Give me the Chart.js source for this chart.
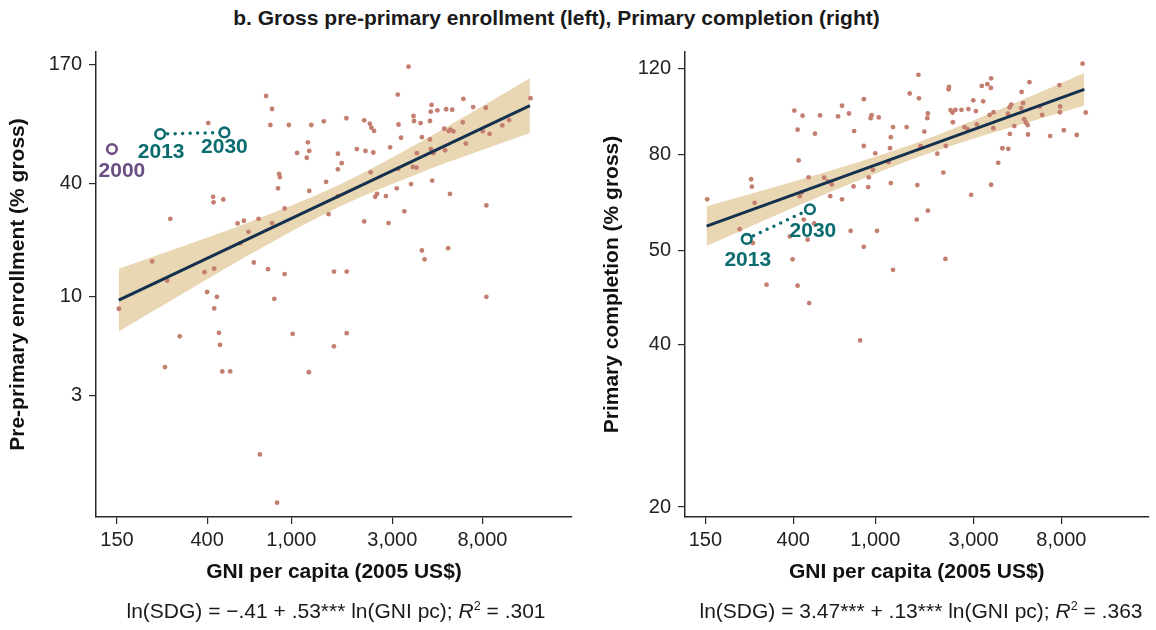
<!DOCTYPE html>
<html>
<head>
<meta charset="utf-8">
<script src="https://cdn.jsdelivr.net/npm/chart.js@4.4.1/dist/chart.umd.min.js"></script>
<style>
  body { margin: 0; width: 1156px; height: 630px; background: #fff; position: relative; overflow: hidden;
         font-family: "Liberation Sans", Arial, Helvetica, sans-serif; color: #1a1a1a; }
  #title { position: absolute; left: 0; width: 1113px; top: 6px; text-align: center; font-weight: bold; font-size: 21px; }
  canvas { position: absolute; top: 0; }
  .eq { position: absolute; top: 599px; width: 600px; text-align: center; font-size: 21px; white-space: nowrap; }
  .eq sup { font-size: 0.6em; vertical-align: 0.65em; line-height: 0; }
</style>
</head>
<body>
<div id="title">b. Gross pre-primary enrollment (left), Primary completion (right)</div>
<canvas id="leftChart" width="580" height="600" style="left:0"></canvas>
<canvas id="rightChart" width="566" height="600" style="left:590px"></canvas>
<div class="eq" style="left:36px">ln(SDG) = −.41 + .53*** ln(GNI pc); <i>R</i><sup>2</sup> = .301</div>
<div class="eq" style="left:621px">ln(SDG) = 3.47*** + .13*** ln(GNI pc); <i>R</i><sup>2</sup> = .363</div>
<script>
// ---- data ----
const gniTicks = [150, 400, 1000, 3000, 8000];

// left panel: gross pre-primary enrollment
const leftGni = [3580, 760, 811, 3185, 6500, 13500, 4600, 4560, 4900, 5390, 5760, 7230, 8300, 405, 796, 973, 1243, 1424, 1820, 2210,
  2350, 2390, 2460, 3210, 3780, 3800, 4080, 4520, 5280, 5540, 5660, 5830, 6460, 8030, 8650, 9930, 10690, 1197, 1215, 1183,
  1065, 1660, 1730, 1660, 2040, 2240, 2440, 2930, 3300, 4140, 4520, 3920, 4560, 4690, 5330, 6680, 3750, 3910, 3195, 2370,
  3680, 4630, 5620, 8350, 3150, 2540, 2490, 2800, 3420, 2880, 2210, 1660, 1500, 1460, 1215, 875, 883, 865, 930, 811,
  700, 597, 557, 627, 573, 429, 427, 477, 268, 220, 259, 389, 432, 665, 776, 930, 1590, 1827, 400, 445,
  831, 8350, 5510, 4140, 4260, 153, 432, 297, 455, 460, 1015, 1827, 1590, 253, 472, 514, 1210, 710, 856];
const leftEnroll = [166, 116, 99, 118, 112, 113, 104, 95.8, 97.4, 98.7, 98.2, 101.4, 100.5, 83.4, 81.4, 81.4, 81.4, 85.2, 88.4, 86.2,
  82.8, 78.8, 75.7, 81.9, 90.9, 85.5, 83.4, 85.5, 77.8, 75.7, 76.9, 75.4, 84.1, 75.4, 73, 81, 86.5, 65.9, 59.3, 54.6,
  57.9, 57.4, 51.1, 47.4, 60.7, 59.3, 58.2, 62, 69.7, 70.2, 68.3, 57.7, 60.7, 57.7, 59.8, 64.9, 48.8, 48.4, 47.6, 45.7,
  39.6, 41.3, 35.1, 30.5, 37.6, 35.1, 33.9, 34.2, 28.4, 24.6, 25.1, 34.2, 27.4, 40.7, 36.4, 44.8, 43.1, 37.6, 29.4, 24.6,
  25.9, 25.3, 24.5, 22.1, 19.2, 31.7, 33.9, 32.8, 25.9, 15.4, 12.2, 13.5, 14.1, 15.2, 14.0, 13.2, 13.6, 13.6, 10.6, 10,
  9.76, 10, 18.1, 17.6, 15.8, 8.64, 8.68, 6.17, 6.44, 5.56, 6.36, 6.41, 5.46, 4.24, 4.02, 4.02, 3.98, 1.46, 0.81];
const leftFitGni = [153, 13410];
const leftFitVal = [9.6, 103.2];
const leftBandGni = [153, 298, 639, 1704, 4074, 7836, 13410];
const leftBandLow = [6.55, 10.2, 16.8, 30.2, 45.5, 59.6, 73.8];
const leftBandHigh = [14.09, 18.3, 25.0, 39.5, 66.1, 101, 144.4];
const leftYTicks = [3, 10, 40, 170];

// right panel: primary completion
const rightGni = [10140, 1620, 3650, 3290, 3500, 3640, 5600, 7830, 1470, 2280, 2270, 1630, 2990, 3340, 5130, 5220, 4570, 4485, 4400, 5110,
  6300, 7890, 7870, 10500, 6460, 5280, 5380, 5490, 4730, 5510, 4500, 3750, 3590, 3740, 7060, 8220, 9500, 4140, 4420, 3950,
  3650, 2920, 2000, 2200, 2140, 1800, 1590, 1600, 1660, 1730, 1790, 1800, 2320, 2370, 2450, 2620, 2830, 3080, 2380, 2710,
  2810, 3110, 880, 690, 746, 660, 540, 444, 405, 420, 510, 960, 950, 1040, 790, 1220, 1420, 1190, 880, 1180,
  1000, 1160, 975, 930, 785, 925, 1190, 565, 590, 615, 605, 690, 475, 440, 430, 425, 250, 252, 260, 153,
  220, 255, 385, 450, 470, 505, 760, 1020, 880, 2190, 397, 297, 420, 1220, 478, 845];
const rightCompletion = [122.3, 116.9, 115.2, 111.7, 112.5, 110.8, 113.4, 112.1, 108.3, 111.3, 110.2, 106.2, 105.3, 104.9, 109, 104.1, 103.5, 102.3, 99.7, 102,
  102.7, 102.7, 100.3, 100.2, 99.2, 97.5, 96.2, 95.2, 94.8, 91.6, 91.8, 100.3, 99.2, 94, 91, 93.2, 91.4, 86.6, 86.4, 81.6,
  74.6, 71.6, 84.7, 87.4, 78.4, 67.1, 64.7, 74.5, 87.3, 92.7, 97.9, 99.8, 101.2, 100.2, 101.3, 101.3, 101.6, 100.8, 96.3, 94.4,
  93.6, 95.5, 105.8, 103, 99.8, 98.6, 99, 98.9, 101, 93.4, 91.9, 99.1, 97.9, 98.2, 92.9, 94.4, 94.4, 90.6, 87.4, 86.6,
  84.8, 81.8, 79.3, 76.9, 74.1, 73.9, 75.1, 76.8, 75.6, 74.7, 71.2, 70.3, 76.9, 72.3, 71.2, 82.4, 76.3, 74, 69.3, 70.3,
  62.2, 58.8, 60.4, 64.7, 59.6, 63.7, 61.8, 61.8, 57.9, 55.1, 55, 49.6, 49.4, 52.7, 46, 39.5];
const rightFitGni = [152, 10340];
const rightFitVal = [63.0, 110.1];
const rightBandGni = [152, 304, 656, 1579, 3407, 5900, 10340];
const rightBandLow = [58.1, 65.0, 73.3, 83.3, 91.4, 97.0, 103.0];
const rightBandHigh = [68.3, 73.4, 79.7, 88.5, 98.9, 107.7, 117.8];
const rightYTickPos = [20, 38.9, 57.1, 84.5, 120];
const rightYTickText = ['20', '40', '50', '80', '120'];

// SDG target markers: [GNI, value]
const leftYears = ['2000', '2013', '2030'];
const leftYearGni = [142, 240, 483];
const leftYearVal = [60.7, 72.9, 74.4];
const rightYears = ['2013', '2030'];
const rightYearGni = [238, 482];
const rightYearVal = [59.8, 67.5];

// ---- styling ----
const DOT = '#c47e70';
const BAND = '#e9d6b2';
const FIT = '#13304f';
const TEAL = '#0b6c6f';
const PURPLE = '#6b4f84';
const AXIS = '#2a2a2a';

Chart.defaults.font.family = '"Liberation Sans", Arial, Helvetica, sans-serif';
Chart.defaults.color = '#1a1a1a';

const pairs = (xs, ys) => xs.map((x, i) => ({ x, y: ys[i] }));
const withCommas = v => String(Math.round(v)).replace(/\B(?=(\d{3})+(?!\d))/g, ',');

const yearLabels = {
  id: 'yearLabels',
  afterDatasetsDraw(chart, args, opts) {
    const { ctx } = chart;
    const x = chart.scales.x, y = chart.scales.y;
    (opts.items || []).forEach(it => {
      ctx.save();
      ctx.font = 'bold 21px "Liberation Sans", Arial, sans-serif';
      ctx.fillStyle = it.color;
      ctx.textAlign = 'center';
      ctx.textBaseline = 'middle';
      ctx.fillText(it.text, x.getPixelForValue(it.gni) + it.dx, y.getPixelForValue(it.val) + it.dy);
      ctx.restore();
    });
  }
};

const makePanel = (canvasId, p) => {
  const datasets = [
    { type: 'line', data: pairs(p.bandGni, p.bandLow), borderWidth: 0, pointRadius: 0, fill: false,
      cubicInterpolationMode: 'monotone', order: 10 },
    { type: 'line', data: pairs(p.bandGni, p.bandHigh), borderWidth: 0, pointRadius: 0, fill: '-1',
      backgroundColor: BAND, cubicInterpolationMode: 'monotone', order: 10 },
    { type: 'scatter', data: pairs(p.gni, p.vals), pointRadius: 2.4, pointBackgroundColor: DOT,
      pointBorderWidth: 0, order: 5 },
    { type: 'line', data: pairs(p.fitGni, p.fitVal), borderColor: FIT, borderWidth: 3, pointRadius: 0, order: 3 },
    { type: 'line', data: pairs(p.yearGni.slice(-2), p.yearVal.slice(-2)), borderColor: TEAL, borderWidth: 3.5,
      borderDash: [0, 7.5], borderCapStyle: 'round', pointRadius: 0, order: 2 },
    { type: 'scatter', data: pairs(p.yearGni, p.yearVal), pointRadius: 4.8, pointBorderWidth: 2.6,
      pointBackgroundColor: '#fff', pointBorderColor: p.years.map(t => t === '2000' ? PURPLE : TEAL), order: 1 }
  ];

  return new Chart(document.getElementById(canvasId), {
    type: 'scatter',
    data: { datasets },
    options: {
      responsive: false,
      animation: false,
      events: [],
      layout: { padding: { top: 52, right: p.padRight, left: 0, bottom: 0 } },
      plugins: {
        legend: { display: false },
        tooltip: { enabled: false },
        yearLabels: { items: p.labels }
      },
      scales: {
        x: {
          type: 'logarithmic', min: 119.4, max: 21200,
          afterBuildTicks: s => { s.ticks = gniTicks.map(v => ({ value: v })); },
          afterFit: s => { s.height = 83; },
          ticks: { autoSkip: false, maxRotation: 0, padding: 4, color: '#222', font: { size: 20 }, callback: v => withCommas(v) },
          grid: { drawOnChartArea: false, drawTicks: true, tickLength: 7, color: AXIS, lineWidth: 1.2 },
          border: { display: true, color: AXIS, width: 1.5 },
          title: { display: true, text: 'GNI per capita (2005 US$)', color: '#111',
                   font: { size: 21, weight: 'bold' }, padding: { top: 0, bottom: 15 } }
        },
        y: {
          type: 'logarithmic', min: p.yMin, max: p.yMax,
          afterBuildTicks: s => { s.ticks = p.yTickPos.map(v => ({ value: v })); },
          afterFit: s => { s.width = p.yWidth; },
          ticks: { autoSkip: false, padding: 7, color: '#222', font: { size: 20 },
                   callback: (v, i) => p.yTickText[i] },
          grid: { drawOnChartArea: false, drawTicks: true, tickLength: 7, color: AXIS, lineWidth: 1.2 },
          border: { display: true, color: AXIS, width: 1.5 },
          title: { display: true, text: p.yTitle, color: '#111',
                   font: { size: 21, weight: 'bold' }, padding: { top: p.yTitlePad, bottom: 0 } }
        }
      }
    },
    plugins: [yearLabels]
  });
};

window.onload = () => {
  makePanel('leftChart', {
    gni: leftGni, vals: leftEnroll,
    fitGni: leftFitGni, fitVal: leftFitVal,
    bandGni: leftBandGni, bandLow: leftBandLow, bandHigh: leftBandHigh,
    years: leftYears, yearGni: leftYearGni, yearVal: leftYearVal,
    yMin: 0.68, yMax: 198.5, yTickPos: leftYTicks, yTickText: leftYTicks.map(String),
    yWidth: 96, yTitle: 'Pre-primary enrollment (% gross)', yTitlePad: 6, padRight: 8,
    labels: [
      { text: '2000', gni: leftYearGni[0], val: leftYearVal[0], dx: 10, dy: 22, color: PURPLE },
      { text: '2013', gni: leftYearGni[1], val: leftYearVal[1], dx: 1, dy: 18, color: TEAL },
      { text: '2030', gni: leftYearGni[2], val: leftYearVal[2], dx: 0, dy: 15, color: TEAL }
    ]
  });
  makePanel('rightChart', {
    gni: rightGni, vals: rightCompletion,
    fitGni: rightFitGni, fitVal: rightFitVal,
    bandGni: rightBandGni, bandLow: rightBandLow, bandHigh: rightBandHigh,
    years: rightYears, yearGni: rightYearGni, yearVal: rightYearVal,
    yMin: 19.2, yMax: 128.3, yTickPos: rightYTickPos, yTickText: rightYTickText,
    yWidth: 95, yTitle: 'Primary completion (% gross)', yTitlePad: 10, padRight: 2,
    labels: [
      { text: '2013', gni: rightYearGni[0], val: rightYearVal[0], dx: 1, dy: 21, color: TEAL },
      { text: '2030', gni: rightYearGni[1], val: rightYearVal[1], dx: 3, dy: 22, color: TEAL }
    ]
  });
};
</script>
</body>
</html>
